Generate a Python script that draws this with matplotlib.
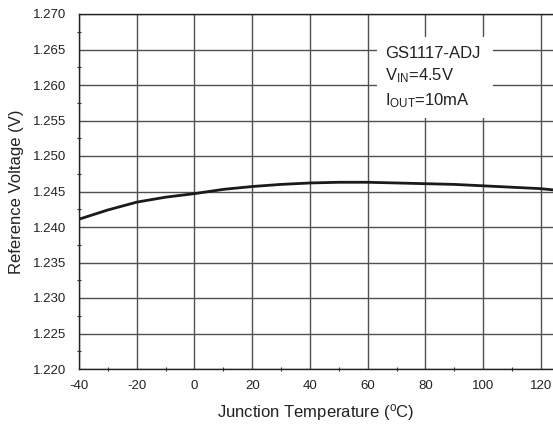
import matplotlib
matplotlib.use("Agg")
import matplotlib.pyplot as plt
from matplotlib.ticker import MultipleLocator
from matplotlib.patches import Rectangle

plt.rcParams['font.family'] = ['Liberation Sans', 'DejaVu Sans']
plt.rcParams['mathtext.fontset'] = 'custom'
plt.rcParams['mathtext.rm'] = 'Liberation Sans'
plt.rcParams['axes.unicode_minus'] = False

temps = [-40, -30, -20, -10, 0, 10, 20, 30, 40, 50, 60, 70, 80, 90, 100, 110, 120, 125]
vref = [1.2411, 1.2424, 1.2435, 1.2442, 1.2447, 1.2453, 1.2457, 1.2460, 1.2462,
        1.2463, 1.2463, 1.2462, 1.2461, 1.2460, 1.2458, 1.2456, 1.2454, 1.2452]
x_ticks = [-40, -20, 0, 20, 40, 60, 80, 100, 120]
y_ticks = [1.220, 1.225, 1.230, 1.235, 1.240, 1.245, 1.250, 1.255, 1.260, 1.265, 1.270]
note_lines = ["GS1117-ADJ", r"$\mathregular{V_{IN}}$=4.5V", r"$\mathregular{I_{OUT}}$=10mA"]

fig = plt.figure(figsize=(5.53, 4.25), dpi=100)
ax = fig.add_axes([79/553, 56/425, 1 - 79/553, (369 - 14)/425])

ax.plot(temps, vref, color='#1a1a1a', lw=2.0, zorder=3)

ax.set_xlim(-40, 124.2)
ax.set_ylim(1.220, 1.270)
ax.set_xticks(x_ticks)
ax.set_xticklabels([str(v) for v in x_ticks])
ax.set_yticks(y_ticks)
ax.set_yticklabels([f"{v:.3f}" for v in y_ticks])
ax.xaxis.set_minor_locator(MultipleLocator(10))
ax.yaxis.set_minor_locator(MultipleLocator(0.0025))
ax.tick_params(which='major', length=0, labelsize=9.5, colors='#222222')
ax.tick_params(axis='y', which='major', pad=9)
ax.tick_params(axis='x', which='major', pad=8)
ax.tick_params(which='minor', length=3, direction='inout', width=0.8, color='#333333')
ax.grid(True, which='major', color='#505050', lw=1.0)

for s in ['left', 'bottom', 'top']:
    ax.spines[s].set_color('#222222')
    ax.spines[s].set_linewidth(1.0)
ax.spines['right'].set_visible(False)

ax.set_xlabel(r"Junction Temperature ($\mathregular{^{o}}$C)", fontsize=12, labelpad=7, color='#222222')
ax.set_ylabel("Reference Voltage (V)", fontsize=12, labelpad=7, color='#222222')

ax.add_patch(Rectangle((0.629, 0.707), 0.244, 0.228, transform=ax.transAxes,
                       facecolor='white', edgecolor='none', zorder=4))
for txt, yy in zip(note_lines, [0.876, 0.814, 0.744]):
    ax.text(0.646, yy, txt, transform=ax.transAxes, fontsize=12, va='baseline',
            ha='left', color='#222222', zorder=5)

fig.savefig("out.png", dpi=100)
